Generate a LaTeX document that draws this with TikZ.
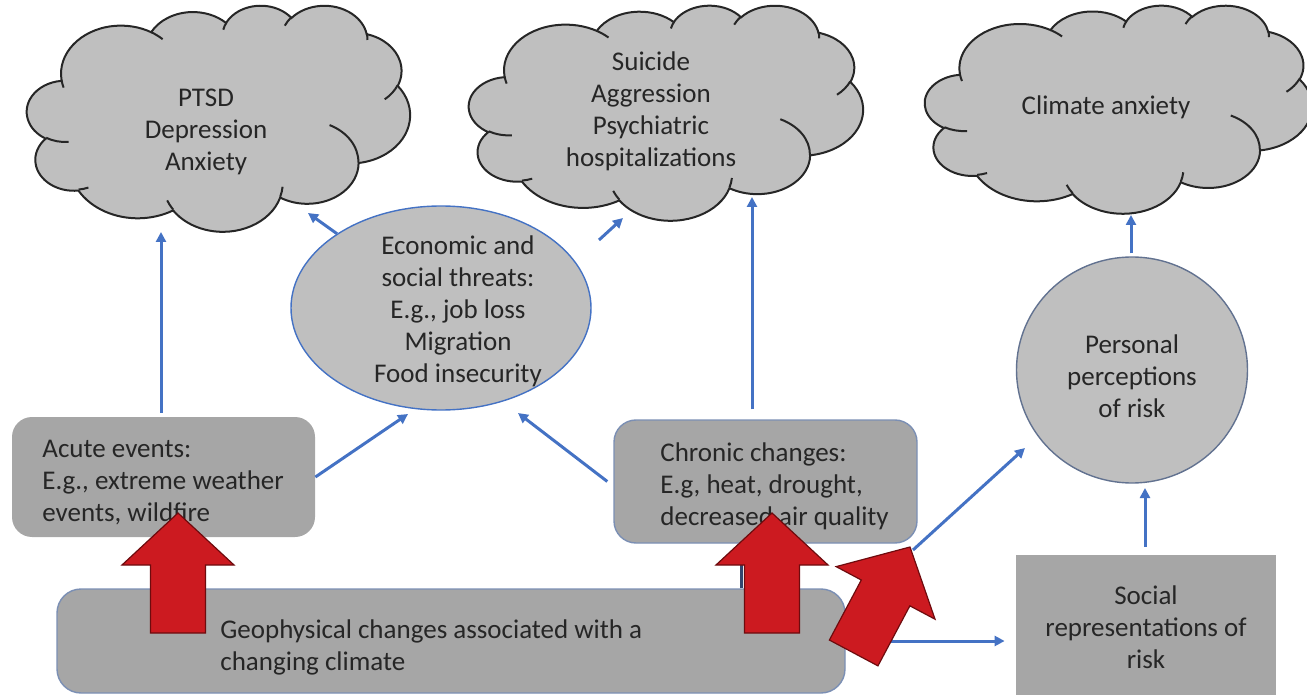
\documentclass[tikz,border=0pt]{standalone}
\usepackage{fontspec}
\setmainfont{Carlito}
\usetikzlibrary{arrows.meta,shapes.geometric}

\definecolor{cloudgray}{HTML}{BFBFBF}
\definecolor{boxgray}{HTML}{A6A6A6}
\definecolor{linkblue}{HTML}{4472C4}
\definecolor{edgeblue}{HTML}{7B8FB4}
\definecolor{hiddenblue}{HTML}{34466E}
\definecolor{inkgray}{HTML}{262626}
\definecolor{alertred}{HTML}{CC1A20}
\definecolor{alertedge}{HTML}{6E0B0E}

% Office-style cloud outline on a 100 x 100 grid
\newcommand{\puffoutline}{%
  (9.028,33.264)
  arc[start angle=172.26, end angle=300.37, x radius=15.632, y radius=21.273]
  arc[start angle=-152.02, end angle=-45.46, x radius=12.345, y radius=16.822]
  arc[start angle=-153.50, end angle=-37.33, x radius=10.104, y radius=13.762]
  arc[start angle=-139.71, end angle=-10.21, x radius=11.243, y radius=15.266]
  arc[start angle=-74.77, end angle=23.21, x radius=12.345, y radius=16.836]
  arc[start angle=-37.52, end angle=81.86, x radius=15.683, y radius=21.343]
  arc[start angle=0.46, end angle=121.97, x radius=13.391, y radius=18.211]
  arc[start angle=16.84, end angle=146.23, x radius=15.630, y radius=21.331]
  arc[start angle=58.98, end angle=150.21, x radius=17.870, y radius=24.405]
  arc[start angle=83.31, end angle=223.10, x radius=10.093, y radius=13.699]
  arc[start angle=120.36, end angle=264.11, x radius=10.058, y radius=13.762]
  -- cycle}
% the small inner curls of the cloud
\newcommand{\puffcurls}{%
  (10.863,60.595) arc[start angle=85.55, end angle=120.36, x radius=10.058, y radius=13.762]
  (16.037,80.785) arc[start angle=68.24, end angle=83.31, x radius=10.093, y radius=13.699]
  (38.144,90.486) arc[start angle=146.23, end angle=158.47, x radius=15.630, y radius=21.331]
  (66.729,80.442) arc[start angle=4.74, end angle=16.84, x radius=15.630, y radius=21.331]
  (79.002,53.134) arc[start angle=-64.03, end angle=0.46, x radius=13.391, y radius=18.211]
  (96.755,35.542) arc[start angle=23.21, end angle=49.65, x radius=12.345, y radius=16.836]
  (88.713,12.560) arc[start angle=-10.21, end angle=0.82, x radius=11.243, y radius=15.266]
  (67.310,9.148) arc[start angle=-156.29, end angle=-139.71, x radius=11.243, y radius=15.266]
  (51.252,10.926) arc[start angle=-167.73, end angle=-153.50, x radius=10.104, y radius=13.762]
  (32.407,12.019) arc[start angle=-59.63, end angle=-45.74, x radius=15.632, y radius=21.273]
  (9.553,36.549) arc[start angle=163.20, end angle=172.26, x radius=15.632, y radius=21.273]}

\tikzset{
  txt/.style={font=\fontsize{13.5}{16}\selectfont, text=inkgray, inner sep=0pt},
  cloudfill/.style={fill=cloudgray, draw=black!85, line width=1pt},
  cloudcurl/.style={draw=black!85, line width=1pt},
  roundbox/.style={rectangle, fill=boxgray, inner sep=0pt},
  bluelink/.style={draw=linkblue, line width=1.5pt,
    -{Triangle[length=5pt,width=5pt]}},
  redblock/.pic={
    \filldraw[fill=alertred, draw=alertedge, line width=0.6pt]
      (0,0) -- (56,52) -- (27.5,52) -- (27.5,120) -- (-27.5,120)
      -- (-27.5,52) -- (-56,52) -- cycle;
  }
}

\begin{document}
\begin{tikzpicture}[x=0.5pt, y=-0.5pt]
\path[use as bounding box] (0,0) rectangle (1307,695);

% clouds
\begin{scope}[shift={(27,5)}, xscale=3.83, yscale=2.26]
  \path[cloudfill] \puffoutline;
  \path[cloudcurl] \puffcurls;
\end{scope}
\begin{scope}[shift={(469,5)}, xscale=3.94, yscale=2.15]
  \path[cloudfill] \puffoutline;
  \path[cloudcurl] \puffcurls;
\end{scope}
\begin{scope}[shift={(925,5)}, xscale=3.87, yscale=2.08]
  \path[cloudfill] \puffoutline;
  \path[cloudcurl] \puffcurls;
\end{scope}

\node[txt, align=center] (ptsd) at (206,132) {PTSD\\Depression\\Anxiety};
\node[txt, align=center] (suicide) at (651,111) {Suicide\\Aggression\\Psychiatric\\hospitalizations};
\node[txt, align=center] (climate) at (1106,107) {Climate anxiety};

% ellipse and circle
\node[ellipse, fill=cloudgray, draw=linkblue, line width=0.7pt,
      minimum width=150pt, minimum height=102pt] (econ) at (441,308) {};
\node[txt, align=center] (econtxt) at (458,311)
  {Economic and\\social threats:\\E.g., job loss\\Migration\\Food insecurity};

\node[ellipse, fill=cloudgray, draw=edgeblue!80!black, line width=0.7pt,
      minimum width=115.5pt, minimum height=113pt] (personal) at (1132,370) {};
\node[txt, align=center] (personaltxt) at (1132,376) {Personal\\perceptions\\of risk};

% boxes
\node[roundbox, rounded corners=10pt, minimum width=151.5pt, minimum height=60pt]
  (acute) at (163.5,477) {};
\node[txt, align=left, anchor=west] (acutetxt) at (42,483)
  {Acute events:\\E.g., extreme weather\\events, wildfire};

\node[roundbox, draw=edgeblue, line width=0.7pt, rounded corners=11pt,
      minimum width=151.5pt, minimum height=61.5pt] (chronic) at (765.5,481.5) {};
\node[txt, align=left, anchor=west] (chronictxt) at (660,486)
  {Chronic changes:\\E.g, heat, drought,\\decreased air quality};

\node[roundbox, draw=edgeblue, line width=0.7pt, rounded corners=12pt,
      minimum width=394pt, minimum height=52pt] (geo) at (451,641) {};
\node[txt, align=left, anchor=west] (geotxt) at (220,647)
  {Geophysical changes associated with a\\changing climate};

\node[roundbox, minimum width=130pt, minimum height=70pt] (social) at (1146,625) {};
\node[txt, align=center] (socialtxt) at (1146,627) {Social\\representations of\\risk};

% arrow end points
\coordinate (ptsdlow) at (161,232);
\coordinate (ptsdside) at (308,213);
\coordinate (suicideside) at (623,218);
\coordinate (suicidefrom) at (599,240);
\coordinate (suicidelow) at (752,197);
\coordinate (econleft) at (408,414);
\coordinate (econright) at (518,413);
\coordinate (riskfrom) at (913,550);
\coordinate (riskto) at (1025,448);
\coordinate (personallow) at (1145,488);
\coordinate (climatelow) at (1131,215);
\coordinate (hiddenx) at (741,0);

% connectors
\draw[bluelink] ([yshift=2pt]acute.north -| ptsdlow) -- (ptsdlow);
\draw[bluelink] (econ) -- (ptsdside);
\draw[bluelink] (suicidefrom) -- (suicideside);
\draw[bluelink] (acute.east) -- (econleft);
\draw[bluelink] ([xshift=-3pt]chronic.west) -- (econright);
\draw[bluelink] ([yshift=5pt]chronic.north -| suicidelow) -- (suicidelow);
\draw[bluelink] (riskfrom) -- (riskto);
\draw[bluelink] (geo.east) -- ([xshift=-5.5pt]social.west |- geo.east);
\draw[bluelink] ([yshift=4pt]social.north -| personallow) -- (personallow);
\draw[bluelink] ([yshift=1.5pt]personal.north -| climatelow) -- (climatelow);
\draw[draw=hiddenblue, line width=1.5pt] (geo.north -| hiddenx) -- (chronic.south -| hiddenx);

% red block arrows
\pic (redA) at (178,513) {redblock};
\pic (redB) at (772,513) {redblock};
\pic[rotate=-28] (redC) at (910,547) {redblock};
\end{tikzpicture}
\end{document}
